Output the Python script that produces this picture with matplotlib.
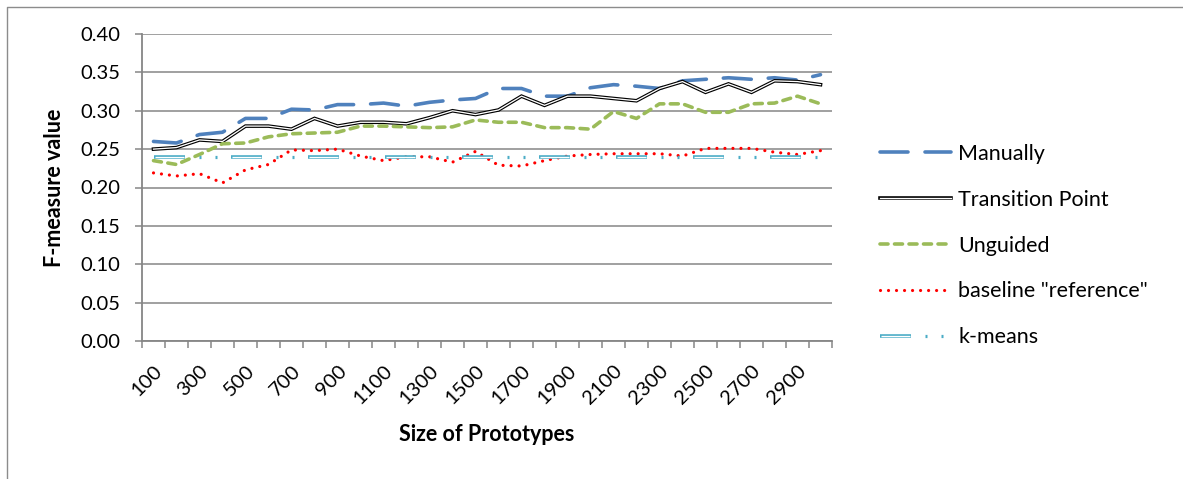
import numpy as np
import matplotlib
matplotlib.use("Agg")
import matplotlib.pyplot as plt
from matplotlib.lines import Line2D

# datos
tamanos = list(range(100, 3001, 100))
etiquetas_x = [str(t) for t in tamanos[::2]]

manually = [0.260, 0.258, 0.269, 0.272, 0.290, 0.290, 0.302, 0.301, 0.308, 0.308,
            0.310, 0.306, 0.311, 0.314, 0.316, 0.329, 0.329, 0.319, 0.319, 0.330,
            0.334, 0.332, 0.329, 0.339, 0.341, 0.343, 0.341, 0.343, 0.340, 0.347]
transition = [0.250, 0.252, 0.262, 0.260, 0.280, 0.280, 0.276, 0.290, 0.280, 0.285,
              0.285, 0.283, 0.291, 0.300, 0.295, 0.301, 0.319, 0.307, 0.319, 0.319,
              0.316, 0.313, 0.329, 0.338, 0.324, 0.335, 0.324, 0.339, 0.338, 0.334]
unguided = [0.235, 0.230, 0.243, 0.257, 0.258, 0.266, 0.270, 0.271, 0.272, 0.280,
            0.280, 0.279, 0.278, 0.279, 0.288, 0.285, 0.285, 0.278, 0.278, 0.276,
            0.299, 0.290, 0.309, 0.309, 0.298, 0.298, 0.309, 0.310, 0.319, 0.309]
baseline = [0.219, 0.215, 0.218, 0.206, 0.223, 0.230, 0.249, 0.248, 0.250, 0.241,
            0.235, 0.240, 0.240, 0.233, 0.247, 0.229, 0.228, 0.235, 0.241, 0.243,
            0.244, 0.244, 0.244, 0.241, 0.251, 0.251, 0.251, 0.246, 0.243, 0.248]
kmeans = [0.24] * 30

plt.rcParams['font.family'] = ['Lato', 'DejaVu Sans']
plt.rcParams['lines.scale_dashes'] = False

gris = '#868686'
px = 0.72  # 1 pixel en puntos a dpi 100

fig = plt.figure(figsize=(11.83, 4.79), dpi=100)
ax = fig.add_axes([142/1183, 1 - 341/479, 690/1183, 307/479])

x = np.arange(len(tamanos))

# Manually
l_man, = ax.plot(x, manually, color='#4f81bd', lw=3.6*px,
                 linestyle=(0, (28*px, 17*px)), dash_capstyle='round')

# Transition Point (linea doble)
l_tp1, = ax.plot(x, transition, color='black', lw=3.6*px, solid_joinstyle='miter')
l_tp2, = ax.plot(x, transition, color='white', lw=1.3*px, solid_joinstyle='miter')

# Unguided
l_ung, = ax.plot(x, unguided, color='#9bbb59', lw=3.6*px,
                 linestyle=(0, (8*px, 6.5*px)), dash_capstyle='round')

# baseline
l_base, = ax.plot(x, baseline, color='#ff0000', lw=3.2*px,
                  linestyle=(0, (0.01, 8*px)), dash_capstyle='round')

# k-means (guion doble + dos puntos)
l_km1, = ax.plot(x, kmeans, color='#4bacc6', lw=3.6*px,
                 linestyle=(0, (31*px, 46*px)), dash_capstyle='butt')
l_km2, = ax.plot(x, kmeans, color='white', lw=1.3*px,
                 linestyle=(76*px, (29*px, 48*px)), dash_capstyle='butt')
l_km3, = ax.plot(x, kmeans, color='#4bacc6', lw=3.2*px,
                 linestyle=(32*px, (2*px, 14*px, 2*px, 59*px)), dash_capstyle='butt')

ax.set_xlim(-0.5, len(tamanos) - 0.5)
ax.set_ylim(0, 0.40)
ax.set_yticks(np.arange(0, 0.401, 0.05))
ax.set_yticklabels([f'{v:.2f}' for v in np.arange(0, 0.401, 0.05)])
ax.set_xticks(x[::2])
ax.set_xticklabels(etiquetas_x, rotation=45, ha='right', va='top', rotation_mode='anchor')
ax.set_xticks(np.arange(-0.5, len(tamanos)), minor=True)

ax.tick_params(axis='y', length=5, width=1.1, color=gris, labelsize=14.5, pad=10.5)
ax.tick_params(axis='x', which='major', length=0, labelsize=14.5, pad=15)
ax.tick_params(axis='x', which='minor', length=5, width=1.1, color=gris)

ax.grid(axis='y', color=gris, lw=1.1)
ax.set_axisbelow(True)
for s in ['top', 'right']:
    ax.spines[s].set_visible(False)
for s in ['left', 'bottom']:
    ax.spines[s].set_color(gris)
    ax.spines[s].set_linewidth(1.3)

ax.set_ylabel('F-measure value', fontsize=15.5, fontweight='bold')
ax.yaxis.set_label_coords(-0.127, 0.5)
ax.yaxis.label.set_va('center')
ax.set_xlabel('Size of Prototypes', fontsize=15.5, fontweight='bold')
ax.xaxis.set_label_coords(0.5, -0.306)
ax.xaxis.label.set_va('center')

# leyenda
fig.legend([l_man, (l_tp1, l_tp2), l_ung, l_base, (l_km1, l_km2, l_km3)],
           ['Manually', 'Transition Point', 'Unguided', 'baseline "reference"', 'k-means'],
           loc='center left', bbox_to_anchor=(880/1183, 1 - 245.5/479),
           frameon=False, fontsize=15.5, handlelength=3.3, handletextpad=0.33,
           labelspacing=1.2, borderpad=0, borderaxespad=0)

# borde del area del grafico
fig.add_artist(Line2D([7/1183, 7/1183, 1], [0, 1 - 7/479, 1 - 7/479],
                      transform=fig.transFigure, color='#8c8c8c', lw=1.0))

fig.savefig('out.png', dpi=100)
